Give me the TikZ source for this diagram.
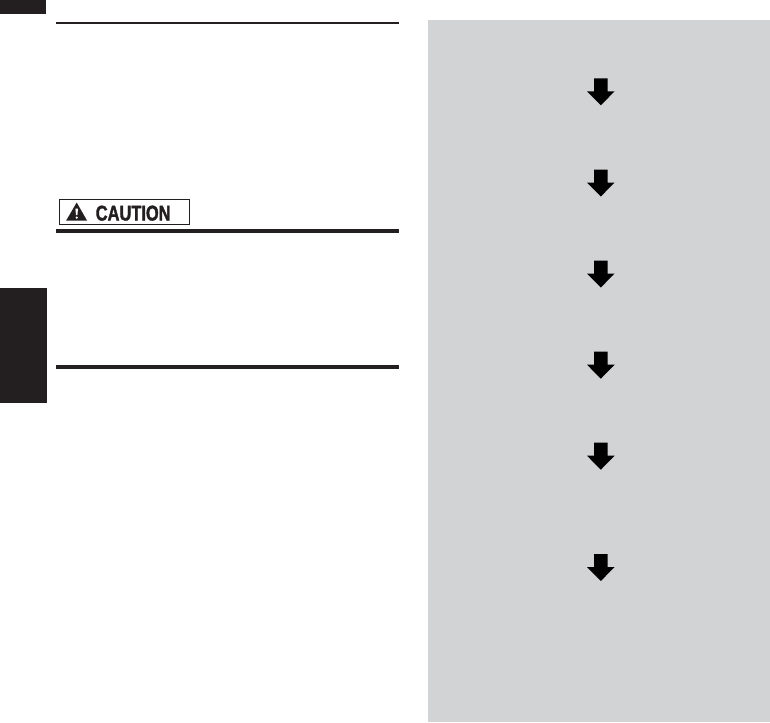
\documentclass[tikz,border=0pt]{standalone}
\usepackage{fontspec}
\newfontfamily\cautionfont[FakeStretch=0.77,FakeBold=1.6]{Liberation Sans Bold}
\definecolor{inkdark}{HTML}{231F20}
\definecolor{panelgrey}{HTML}{D1D3D4}
\tikzset{
  downarrow/.pic={\fill[black] (-6.8,0) -- (6.8,0) -- (6.8,13) -- (13.8,13) -- (0,27) -- (-13.8,13) -- (-6.8,13) -- cycle;}
}
\begin{document}
\begin{tikzpicture}[x=0.75pt,y=-0.75pt]
\useasboundingbox (0,0) rectangle (770,722);
% tabs
\fill[inkdark] (0,0) rectangle (46,14);
\fill[inkdark] (0,288) rectangle (47,403);
% rules
\fill[inkdark] (56,22) rectangle (399,24);
\fill[inkdark] (56,229) rectangle (399,233);
\fill[inkdark] (56,365) rectangle (399,369);
% caution label
\node[draw=inkdark,line width=0.7pt,minimum width=97.5pt,minimum height=19pt,inner sep=0pt,anchor=north west] (cautionbox) at (58.5,199) {};
\fill[inkdark] (76.7,202.5) -- (87,220.5) -- (66.2,220.5) -- cycle;
\fill[white] (75.4,208.5) -- (78,208.5) -- (77.4,215.2) -- (76,215.2) -- cycle;
\fill[white] (76.7,217.6) circle (1.2);
\node[anchor=base west,inner sep=0pt,text=inkdark,font=\cautionfont\fontsize{16pt}{17pt}\selectfont] (cautionlabel) at (95.5,220.5) {CAUTION};
% panel
\fill[panelgrey] (428,20) rectangle (770,722);
% arrows
\foreach \ytop in {78.3,169.5,260.5,351.7,442.7,554}
  \pic at (600.8,\ytop) {downarrow};
\end{tikzpicture}
\end{document}
